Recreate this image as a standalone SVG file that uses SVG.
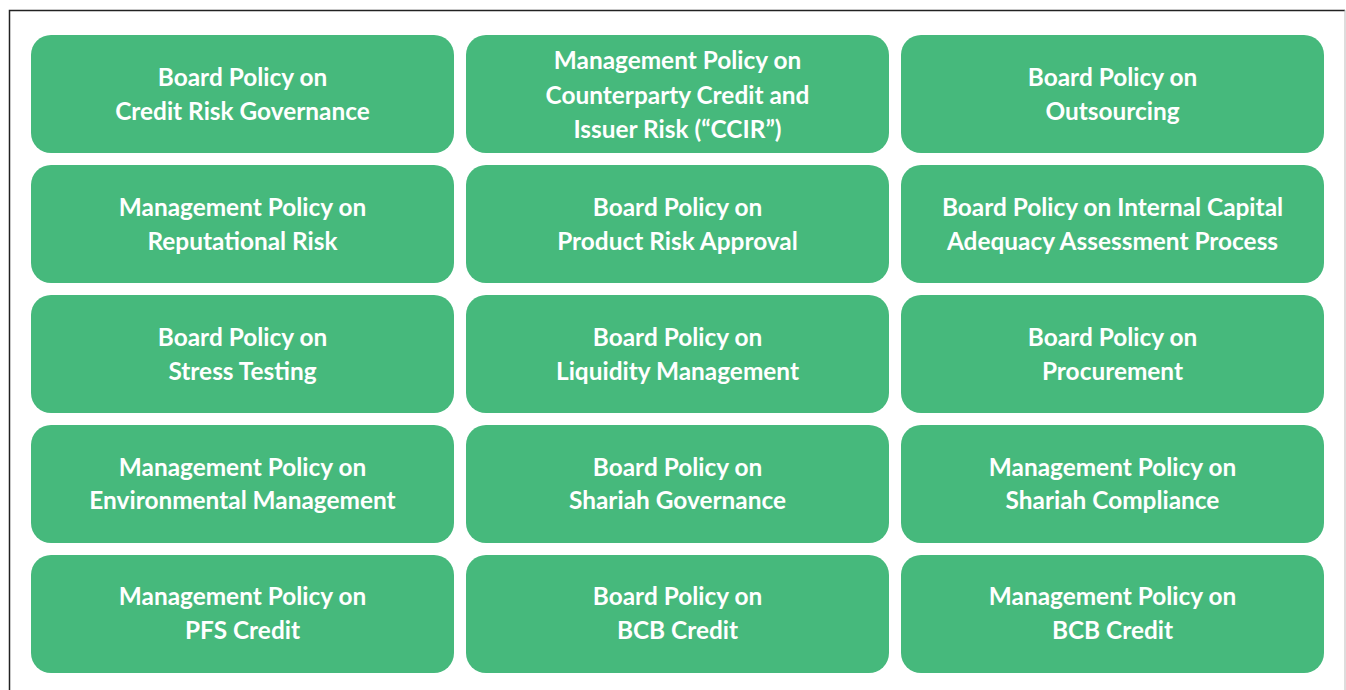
<svg xmlns="http://www.w3.org/2000/svg" width="1346" height="690" viewBox="0 0 1346 690">
<style>
.b{fill:#46B97C}
.t{font-family:Lato,"Open Sans",sans-serif;font-weight:700;font-size:24.4px;fill:#fff;text-anchor:middle}
</style>
<rect x="0" y="0" width="1346" height="690" fill="#fff"/>
<path d="M9.5,690 V10.5 H1345" fill="none" stroke="#222" stroke-width="1.5"/>
<line x1="1345" y1="10" x2="1345" y2="690" stroke="#bbb" stroke-width="1"/>
<g id="n1"><rect class="b" x="31" y="35" width="423" height="118" rx="20"/><text class="t" x="242.5" y="86">Board Policy on</text><text class="t" x="242.5" y="120">Credit Risk Governance</text></g>
<g id="n2"><rect class="b" x="466" y="35" width="423" height="118" rx="20"/><text class="t" x="677.5" y="69">Management Policy on</text><text class="t" x="677.5" y="104">Counterparty Credit and</text><text class="t" x="677.5" y="138">Issuer Risk (“CCIR”)</text></g>
<g id="n3"><rect class="b" x="901" y="35" width="423" height="118" rx="20"/><text class="t" x="1112.5" y="86">Board Policy on</text><text class="t" x="1112.5" y="120">Outsourcing</text></g>
<g id="n4"><rect class="b" x="31" y="165" width="423" height="118" rx="20"/><text class="t" x="242.5" y="216">Management Policy on</text><text class="t" x="242.5" y="250">Reputational Risk</text></g>
<g id="n5"><rect class="b" x="466" y="165" width="423" height="118" rx="20"/><text class="t" x="677.5" y="216">Board Policy on</text><text class="t" x="677.5" y="250">Product Risk Approval</text></g>
<g id="n6"><rect class="b" x="901" y="165" width="423" height="118" rx="20"/><text class="t" x="1112.5" y="216">Board Policy on Internal Capital</text><text class="t" x="1112.5" y="250">Adequacy Assessment Process</text></g>
<g id="n7"><rect class="b" x="31" y="295" width="423" height="118" rx="20"/><text class="t" x="242.5" y="346">Board Policy on</text><text class="t" x="242.5" y="380">Stress Testing</text></g>
<g id="n8"><rect class="b" x="466" y="295" width="423" height="118" rx="20"/><text class="t" x="677.5" y="346">Board Policy on</text><text class="t" x="677.5" y="380">Liquidity Management</text></g>
<g id="n9"><rect class="b" x="901" y="295" width="423" height="118" rx="20"/><text class="t" x="1112.5" y="346">Board Policy on</text><text class="t" x="1112.5" y="380">Procurement</text></g>
<g id="n10"><rect class="b" x="31" y="425" width="423" height="118" rx="20"/><text class="t" x="242.5" y="476">Management Policy on</text><text class="t" x="242.5" y="509">Environmental Management</text></g>
<g id="n11"><rect class="b" x="466" y="425" width="423" height="118" rx="20"/><text class="t" x="677.5" y="476">Board Policy on</text><text class="t" x="677.5" y="509">Shariah Governance</text></g>
<g id="n12"><rect class="b" x="901" y="425" width="423" height="118" rx="20"/><text class="t" x="1112.5" y="476">Management Policy on</text><text class="t" x="1112.5" y="509">Shariah Compliance</text></g>
<g id="n13"><rect class="b" x="31" y="555" width="423" height="118" rx="20"/><text class="t" x="242.5" y="605">Management Policy on</text><text class="t" x="242.5" y="639">PFS Credit</text></g>
<g id="n14"><rect class="b" x="466" y="555" width="423" height="118" rx="20"/><text class="t" x="677.5" y="605">Board Policy on</text><text class="t" x="677.5" y="639">BCB Credit</text></g>
<g id="n15"><rect class="b" x="901" y="555" width="423" height="118" rx="20"/><text class="t" x="1112.5" y="605">Management Policy on</text><text class="t" x="1112.5" y="639">BCB Credit</text></g>
<g id="connectors"/>
</svg>
